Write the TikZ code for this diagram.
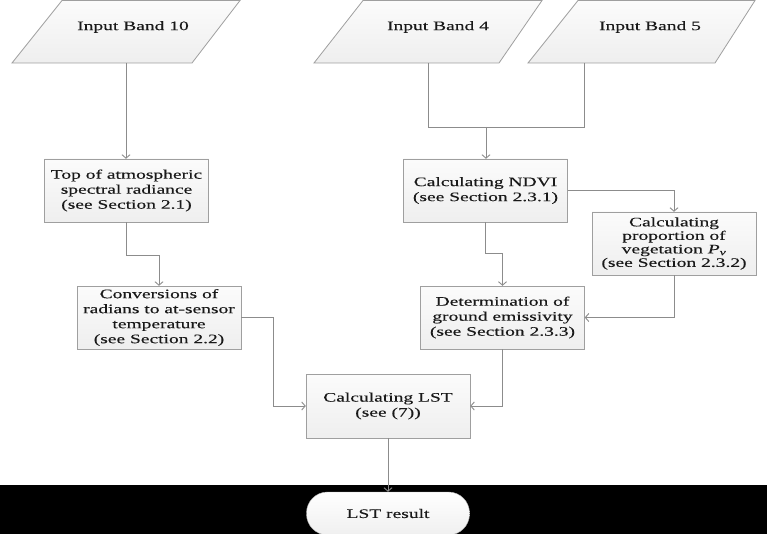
\documentclass[tikz,border=0pt]{standalone}
\usepackage{fontspec}
\setmainfont[FakeStretch=1.5,FakeBold=0.2]{Liberation Serif}
\usetikzlibrary{arrows.meta,calc}
\begin{document}
\begin{tikzpicture}[x=1pt,y=-1pt,
  txt/.style={font=\fontsize{13}{15}\selectfont, text=black!90, align=center},
  shadefill/.style={draw=gray!75, top color=gray!3, bottom color=gray!13},
  box/.style={txt, shadefill, minimum width=164pt, minimum height=63pt, inner sep=1pt},
  conn/.style={draw=gray!90, line width=0.9pt},
  arr/.style={conn, -{Straight Barb[length=3.5pt,width=8pt]}}]
\useasboundingbox (0,0) rectangle (767,534);
\fill[white] (0,0) rectangle (767,534);
% inputs (parallelograms)
\path[shadefill, line width=0.8pt] (12,63) -- (62,0.5) -- (240,0.5) -- (192,63) -- cycle;
\path[shadefill, line width=0.8pt] (314,63) -- (363,0.5) -- (542,0.5) -- (499,63) -- cycle;
\path[shadefill, line width=0.8pt] (528,63) -- (578,0.5) -- (755,0.5) -- (715,63) -- cycle;
\node[txt] (b10) at (133,27) {Input Band 10};
\node[txt] (b4) at (438,27) {Input Band 4};
\node[txt] (b5) at (650,27) {Input Band 5};
\coordinate (b10o) at (126,63);
\coordinate (b4o) at (428,63);
\coordinate (b5o) at (584,63);
% process boxes
\node[box] (toa) at (126.5,190.5) {Top of atmospheric\\spectral radiance\\(see Section 2.1)};
\node[box] (conv) at (159,317.5) {Conversions of\\radians to at-sensor\\temperature\\(see Section 2.2)};
\node[box] (ndvi) at (485.5,190.5) {Calculating NDVI\\(see Section 2.3.1)};
\node[box, font=\fontsize{13}{13.5}\selectfont] (pv) at (674,243.5) {Calculating\\proportion of\\vegetation \textit{P}\textsubscript{\textit{v}}\\(see Section 2.3.2)};
\node[box] (emis) at (502.5,317.5) {Determination of\\ground emissivity\\(see Section 2.3.3)};
\node[box, minimum height=64pt] (lst) at (388,406) {Calculating LST\\(see (7))};
% result band
\fill[black] (0,485) rectangle (767,534);
\node[txt, draw=gray!60, top color=white, bottom color=gray!12, rounded corners=21pt,
  minimum width=163pt, minimum height=43pt] (res) at (388,513.5) {LST result};
% connectors
\coordinate (j) at (486,127);
\draw[conn] (b4o) |- (j);
\draw[conn] (b5o) |- (j);
\draw[arr] (j) -- (j |- ndvi.north);
\draw[arr] (b10o) -- (b10o |- toa.north);
\draw[arr] (toa.south) -- ++(0,33) -| (conv.north);
\draw[arr] (conv.east) -- ++(32,0) |- (lst.west);
\draw[arr] (ndvi.east) -| (pv.north);
\draw[arr] (ndvi.south) -- ++(0,31) -| (emis.north);
\draw[arr] (pv.south) |- (emis.east);
\draw[arr] (emis.south) |- (lst.east);
\draw[arr] (lst.south) -- (res.north);
\end{tikzpicture}
\end{document}
